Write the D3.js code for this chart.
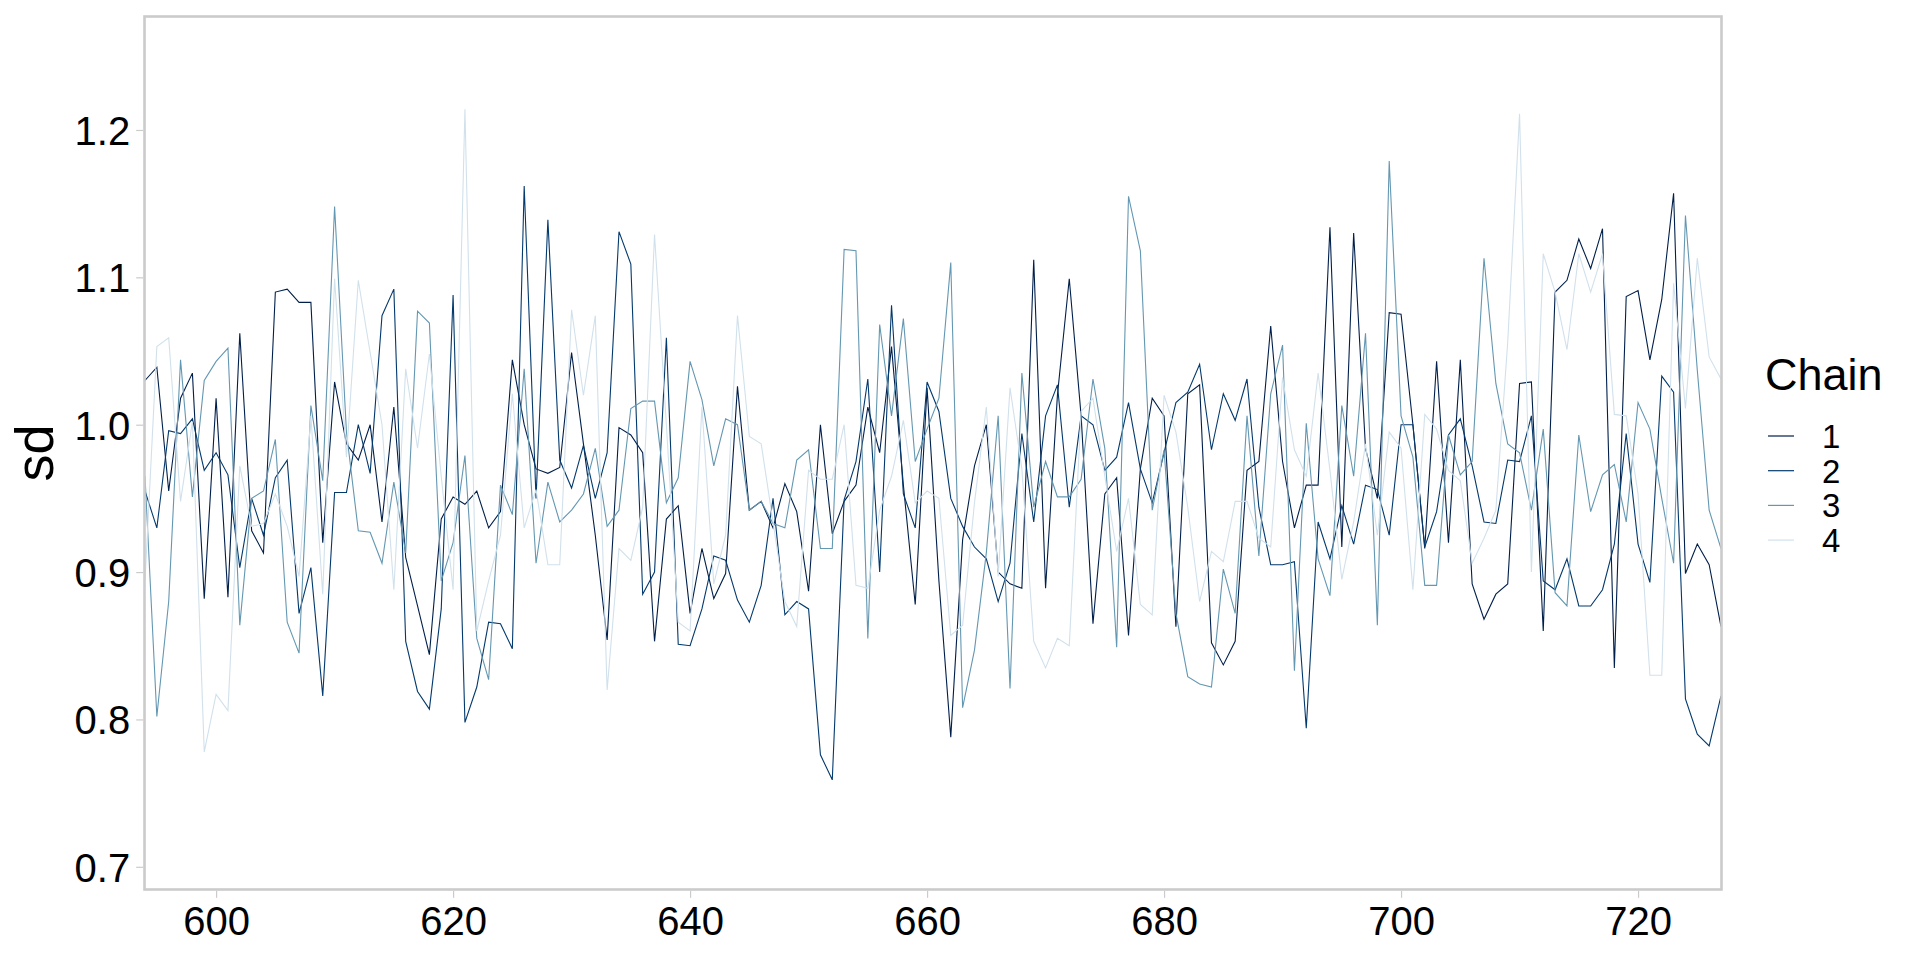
<!DOCTYPE html>
<html>
<head>
<meta charset="utf-8">
<script src="https://cdn.jsdelivr.net/npm/d3@7"></script>
<style>
  body { margin: 0; background: #fff; }
  svg { display: block; }
  text { font-family: "Liberation Sans", Arial, sans-serif; fill: #000; }
</style>
</head>
<body>
<div class="container"></div>
<script>
(function(){

// iterations shown in the window
var firstIter = 594,
    lastIter = 727;

var chainNames = ["1", "2", "3", "4"];
var chainColors = ["#011f4b", "#03396c", "#6497b1", "#d1e1ec"];

var yTicks = [0.7, 0.8, 0.9, 1.0, 1.1, 1.2];
var xTicks = [600, 620, 640, 660, 680, 700, 720];

// sd draws, one value per iteration (594 .. 727)
var chain1 = [
  1.030, 1.039, 0.955, 1.018, 1.035, 0.882, 1.018, 0.883, 1.062, 0.928,
  0.913, 1.090, 1.092, 1.083, 1.083, 0.920, 1.029, 0.987, 0.976, 1.000,
  0.934, 1.012, 0.910, 0.877, 0.844, 0.936, 0.951, 0.946, 0.955, 0.930,
  0.941, 1.044, 1.000, 0.970, 0.967, 0.971, 1.049, 0.987, 0.925, 0.854,
  0.998, 0.993, 0.981, 0.853, 0.936, 0.945, 0.872, 0.916, 0.882, 0.899,
  1.026, 0.942, 0.948, 0.930, 0.960, 0.941, 0.887, 1.000, 0.926, 0.948,
  0.959, 1.012, 0.981, 1.053, 0.959, 0.878, 1.025, 0.894, 0.788, 0.922,
  0.972, 1.000, 0.900, 0.892, 0.889, 1.112, 0.889, 1.020, 1.099, 1.006,
  0.865, 0.953, 0.964, 0.857, 0.970, 1.018, 1.006, 0.863, 1.021, 1.027,
  0.852, 0.837, 0.853, 0.969, 0.975, 1.067, 0.975, 0.930, 0.959, 0.959,
  1.134, 0.917, 1.130, 0.984, 0.950, 1.076, 1.075, 1.000, 0.916, 1.043,
  0.920, 1.044, 0.892, 0.868, 0.885, 0.892, 1.028, 1.029, 0.860, 1.090,
  1.098, 1.126, 1.106, 1.133, 0.835, 1.087, 1.091, 1.044, 1.085, 1.157,
  0.899, 0.919, 0.905, 0.863
];
var chain2 = [
  0.955, 0.930, 0.996, 0.994, 1.004, 0.969, 0.981, 0.966, 0.903, 0.950,
  0.925, 0.964, 0.976, 0.872, 0.903, 0.816, 0.954, 0.954, 1.000, 0.967,
  1.074, 1.092, 0.853, 0.819, 0.807, 0.875, 1.088, 0.798, 0.822, 0.866,
  0.865, 0.848, 1.162, 0.950, 1.139, 0.976, 0.957, 0.986, 0.950, 0.981,
  1.131, 1.109, 0.885, 0.900, 1.059, 0.851, 0.850, 0.875, 0.911, 0.908,
  0.881, 0.866, 0.891, 0.950, 0.871, 0.880, 0.875, 0.776, 0.759, 0.949,
  0.975, 1.031, 0.900, 1.081, 0.953, 0.930, 1.029, 1.009, 0.950, 0.931,
  0.917, 0.909, 0.880, 0.906, 0.994, 0.934, 1.006, 1.027, 0.944, 1.006,
  1.000, 0.969, 0.978, 1.015, 0.970, 0.947, 0.981, 1.015, 1.022, 1.041,
  0.983, 1.021, 1.003, 1.031, 0.944, 0.905, 0.905, 0.907, 0.794, 0.934,
  0.909, 0.945, 0.919, 0.959, 0.956, 0.925, 1.000, 1.000, 0.917, 0.941,
  0.993, 1.004, 0.972, 0.934, 0.933, 0.976, 0.975, 1.006, 0.894, 0.888,
  0.909, 0.877, 0.877, 0.888, 0.919, 0.994, 0.919, 0.893, 1.033, 1.022,
  0.814, 0.790, 0.782, 0.816
];
var chain3 = [
  0.965, 0.802, 0.880, 1.044, 0.951, 1.030, 1.043, 1.052, 0.864, 0.950,
  0.955, 0.990, 0.866, 0.845, 1.013, 0.962, 1.148, 0.995, 0.928, 0.927,
  0.906, 0.961, 0.913, 1.077, 1.069, 0.894, 0.920, 0.979, 0.855, 0.827,
  0.959, 0.939, 1.038, 0.906, 0.961, 0.934, 0.942, 0.953, 0.984, 0.931,
  0.942, 1.011, 1.016, 1.016, 0.947, 0.964, 1.043, 1.017, 0.972, 1.004,
  1.000, 0.942, 0.948, 0.933, 0.930, 0.976, 0.983, 0.916, 0.916, 1.119,
  1.118, 0.855, 1.068, 1.006, 1.072, 0.975, 0.997, 1.018, 1.110, 0.808,
  0.847, 0.913, 1.006, 0.821, 1.035, 0.944, 0.975, 0.951, 0.951, 0.963,
  1.031, 0.984, 0.849, 1.155, 1.118, 0.942, 0.983, 0.872, 0.829, 0.824,
  0.822, 0.902, 0.872, 1.006, 0.911, 1.021, 1.054, 0.833, 1.001, 0.909,
  0.884, 1.013, 0.965, 1.062, 0.864, 1.179, 1.006, 0.978, 0.891, 0.891,
  0.993, 0.966, 0.975, 1.113, 1.028, 0.987, 0.981, 0.942, 0.997, 0.886,
  0.877, 0.993, 0.941, 0.966, 0.973, 0.934, 1.015, 0.997, 0.950, 0.906,
  1.142, 1.037, 0.942, 0.916
];
var chain4 = [
  0.894, 1.053, 1.059, 0.948, 1.002, 0.778, 0.817, 0.806, 0.972, 0.931,
  0.933, 0.953, 0.931, 0.897, 1.006, 0.885, 1.099, 0.978, 1.098, 1.049,
  1.000, 0.888, 1.038, 0.984, 1.048, 0.965, 0.888, 1.214, 0.860, 0.894,
  0.925, 1.021, 0.930, 0.956, 0.905, 0.905, 1.078, 1.020, 1.074, 0.820,
  0.916, 0.908, 0.944, 1.129, 1.000, 0.866, 0.860, 1.012, 0.892, 0.925,
  1.074, 0.992, 0.987, 0.934, 0.880, 0.863, 0.969, 0.963, 0.963, 1.000,
  0.891, 0.889, 0.942, 0.965, 1.003, 0.947, 0.955, 0.950, 0.857, 0.864,
  0.947, 1.012, 0.897, 1.025, 0.970, 0.853, 0.835, 0.855, 0.850, 1.009,
  1.018, 0.965, 0.914, 0.950, 0.878, 0.871, 1.020, 0.995, 0.944, 0.880,
  0.914, 0.907, 0.948, 0.948, 0.923, 0.917, 1.032, 0.983, 0.965, 1.035,
  0.969, 0.895, 0.934, 0.987, 0.925, 0.995, 0.984, 0.888, 1.007, 0.997,
  0.969, 0.962, 0.906, 0.923, 0.942, 1.056, 1.211, 0.900, 1.116, 1.090,
  1.051, 1.116, 1.090, 1.116, 1.007, 1.006, 0.953, 0.830, 0.830, 1.096,
  1.011, 1.113, 1.046, 1.031
];
var chains = [chain1, chain2, chain3, chain4];

var width = 1920,
    height = 960,
    panelLeft = 145,
    panelRight = 1721,
    panelTop = 16.5,
    panelBottom = 889.5;

var x = d3.scaleLinear()
  .domain([firstIter, lastIter])
  .range([panelLeft, panelRight]);

var y = d3.scaleLinear()
  .domain([0.6846, 1.277])
  .range([panelBottom, panelTop]);

var svg = d3.select(".container")
  .append("svg")
  .attr("width", width)
  .attr("height", height);

svg.append("defs").append("clipPath")
  .attr("id", "panelClip")
  .append("rect")
  .attr("x", panelLeft)
  .attr("y", panelTop)
  .attr("width", panelRight - panelLeft)
  .attr("height", panelBottom - panelTop);

var line = d3.line()
  .x(function(d, i){ return x(firstIter + i); })
  .y(function(d){ return y(d); });

// one path per chain, chain 4 ends up on top
svg.append("g")
  .attr("clip-path", "url(#panelClip)")
  .selectAll(".chain")
  .data(chains)
  .enter()
  .append("path")
  .attr("class", "chain")
  .attr("d", line)
  .attr("fill", "none")
  .attr("stroke", function(d, i){ return chainColors[i]; })
  .attr("stroke-width", 1.1)
  .attr("stroke-linejoin", "miter");

// panel border
svg.append("rect")
  .attr("x", panelLeft - 0.5)
  .attr("y", panelTop)
  .attr("width", panelRight - panelLeft + 1)
  .attr("height", panelBottom - panelTop)
  .attr("fill", "none")
  .attr("stroke", "#cbcbcb")
  .attr("stroke-width", 2.6);

// axes
var yAxis = d3.axisLeft(y)
  .tickValues(yTicks)
  .tickSize(7)
  .tickPadding(6)
  .tickFormat(d3.format(".1f"));

var xAxis = d3.axisBottom(x)
  .tickValues(xTicks)
  .tickSize(7)
  .tickPadding(8)
  .tickFormat(d3.format("d"));

var gy = svg.append("g")
  .attr("transform", "translate(" + (panelLeft - 1.8) + ",0)")
  .call(yAxis);

var gx = svg.append("g")
  .attr("transform", "translate(0," + (panelBottom + 1.3) + ")")
  .call(xAxis);

[gx, gy].forEach(function(g){
  g.select(".domain").remove();
  g.selectAll(".tick line")
    .attr("stroke", "#cbcbcb")
    .attr("stroke-width", 1.2);
  g.selectAll(".tick text")
    .attr("font-family", "Liberation Sans, Arial, sans-serif")
    .attr("font-size", 40)
    .attr("fill", "#000");
});

gy.selectAll(".tick text").attr("dy", "0.36em");
gx.selectAll(".tick text").attr("dy", "0.73em");

// y title
svg.append("text")
  .attr("transform", "translate(53," + ((panelTop + panelBottom) / 2) + ") rotate(-90)")
  .attr("text-anchor", "middle")
  .attr("font-size", 54)
  .text("sd");

// legend
var legend = svg.append("g")
  .attr("class", "legend");

legend.append("text")
  .attr("x", 1765)
  .attr("y", 390)
  .attr("font-size", 45)
  .text("Chain");

var keys = legend.selectAll(".key")
  .data(chainNames)
  .enter()
  .append("g")
  .attr("class", "key")
  .attr("transform", function(d, i){ return "translate(0," + (436 + i * 34.7) + ")"; });

keys.append("line")
  .attr("x1", 1768)
  .attr("x2", 1794)
  .attr("y1", 0)
  .attr("y2", 0)
  .attr("stroke", function(d, i){ return chainColors[i]; })
  .attr("stroke-width", 1.2);

keys.append("text")
  .attr("x", 1822)
  .attr("y", 12)
  .attr("font-size", 33)
  .text(function(d){ return d; });

})();
</script>
</body>
</html>
